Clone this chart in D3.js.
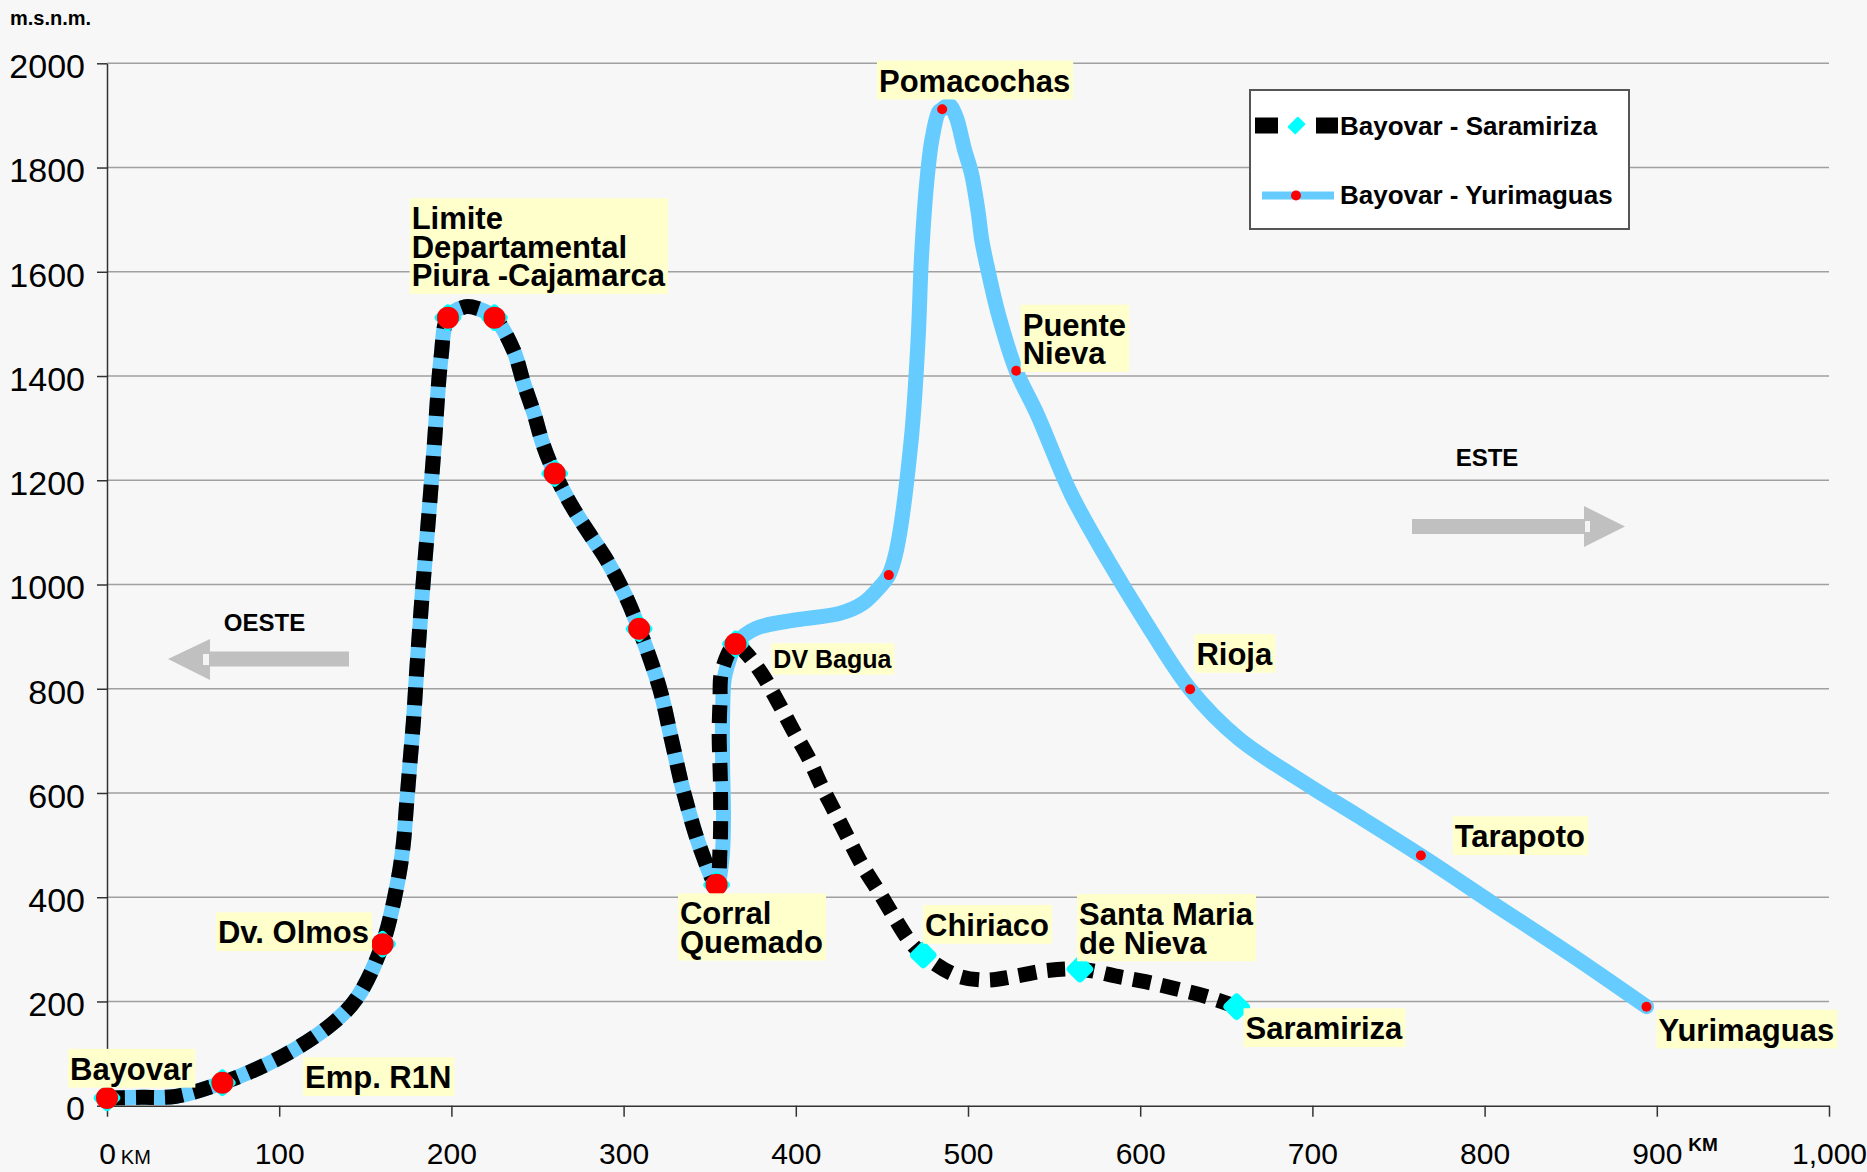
<!DOCTYPE html>
<html>
<head>
<meta charset="utf-8">
<script src="https://cdn.jsdelivr.net/npm/d3@7"></script>
<style>
  body { margin: 0; background: #f7f7f7; }
  svg { display: block; }
  text { font-family: "Liberation Sans", Arial, sans-serif; }
</style>
</head>
<body>
<svg id="chart" width="1867" height="1172"></svg>
<script>
// ---- data (km from Bayovar, metres above sea level) ----
var xTicks = [0, 100, 200, 300, 400, 500, 600, 700, 800, 900, 1000];
var yTicks = [0, 200, 400, 600, 800, 1000, 1200, 1400, 1600, 1800, 2000];

// common western stretch Bayovar -> Corral Quemado
var westKm = [0, 20, 40, 67, 88, 110, 131, 145, 160, 169, 172, 174, 176, 178, 180, 183, 187, 190, 194, 198, 208, 215, 225, 236, 242, 248, 253, 260, 270, 280, 290, 301, 309, 321, 328, 335, 345, 354];
var westM  = [15, 16, 18, 44, 72, 110, 158, 206, 310, 433, 500, 580, 660, 740, 842, 979, 1139, 1265, 1436, 1512, 1533, 1530, 1512, 1450, 1386, 1328, 1271, 1213, 1150, 1098, 1048, 979, 915, 800, 700, 600, 490, 424];

// Corral Quemado -> Yurimaguas
var yuriKm = [357, 358, 357.5, 357.5, 358.5, 362, 365, 377, 400, 426, 439, 449, 454, 458.5, 467, 471, 473, 476, 479, 483, 485, 489, 493, 498, 502, 506, 508, 512, 518, 528, 540, 560, 581, 602, 629, 657, 698, 726, 763, 804, 850, 894];
var yuriM  = [470, 550, 650, 750, 820, 862, 886, 916, 932, 945, 964, 996, 1018, 1066, 1277, 1469, 1629, 1770, 1853, 1907, 1912, 1920, 1898, 1834, 1789, 1712, 1661, 1597, 1514, 1410, 1328, 1173, 1048, 934, 799, 705, 614, 557, 480, 390, 290, 190];

// Corral Quemado -> Saramiriza
var saraKm = [356, 356.3, 355.5, 356, 357, 365, 370.5, 380, 389.6, 398.3, 407, 414.7, 422.6, 430.4, 439, 448.9, 457.6, 466.3, 474, 492.5, 510, 527, 545, 565, 587, 603, 620, 639, 656];
var saraM  = [494, 606, 714, 775, 833, 886, 871, 830, 775, 721, 670, 615, 564, 513, 459, 407, 359, 315, 289, 251, 241, 248, 259, 262, 248, 238, 225, 209, 190];

// stations: "both" = on both routes, "yuri" = Yurimaguas route, "sara" = Saramiriza route
var stationNames = ["Bayovar", "Emp. R1N", "Dv. Olmos", "Limite\nDepartamental\nPiura -Cajamarca", "", "", "", "Corral\nQuemado", "DV Bagua",
                    "", "Pomacochas", "Puente\nNieva", "Rioja", "Tarapoto", "Yurimaguas",
                    "Chiriaco", "Santa Maria\nde Nieva", "Saramiriza"];
var stationKm = [0, 67, 160, 198, 225, 260, 309, 354, 365, 454, 485, 528, 629, 763, 894, 474, 565, 656];
var stationM  = [15, 44, 310, 1512, 1512, 1213, 915, 424, 886, 1018, 1912, 1410, 799, 480, 190, 289, 262, 190];
var stationRoute = ["both", "both", "both", "both", "both", "both", "both", "both", "both",
                    "yuri", "yuri", "yuri", "yuri", "yuri", "yuri", "sara", "sara", "sara"];

var seriesNames = ["Bayovar - Saramiriza", "Bayovar - Yurimaguas"];

// ---- layout ----
var svg = d3.select("#chart");
var W = 1867, H = 1172;
var BLUE = "#66ccff", CYAN = "#00ffff", RED = "#ff0000";

var x = d3.scaleLinear().domain([0, 1000]).range([107, 1829]);
var y = d3.scaleLinear().domain([0, 2000]).range([1105.7, 63.3]);

svg.append("rect").attr("width", W).attr("height", H).attr("fill", "#f7f7f7");

// gridlines
svg.append("g")
  .selectAll("line")
  .data(yTicks.filter(function(d) { return d > 0; }))
  .enter().append("line")
  .attr("x1", x(0)).attr("x2", x(1000))
  .attr("y1", function(d) { return y(d); })
  .attr("y2", function(d) { return y(d); })
  .attr("stroke", "#a0a0a0")
  .attr("stroke-width", 1.5);

// y axis
var gy = svg.append("g")
  .attr("transform", "translate(" + x(0) + ",0)")
  .call(d3.axisLeft(y).tickValues(yTicks).tickSize(10).tickSizeOuter(0).tickPadding(12).tickFormat(d3.format("d")));
gy.selectAll("text").attr("font-size", 34).attr("fill", "#000").attr("dy", "0.42em")
  .style("font-family", '"Liberation Sans", Arial, sans-serif');
gy.selectAll("line, path").attr("stroke", "#333").attr("stroke-width", 1.5);

// x axis
var gx = svg.append("g")
  .attr("transform", "translate(0," + y(0) + ")")
  .call(d3.axisBottom(x).tickValues(xTicks).tickSize(11).tickSizeOuter(0).tickPadding(26).tickFormat(d3.format(",")));
gx.selectAll("text").attr("font-size", 30).attr("fill", "#000")
  .style("font-family", '"Liberation Sans", Arial, sans-serif');
gx.selectAll("line, path").attr("stroke", "#333").attr("stroke-width", 1.5);

// KM markers next to 0 and 900
gx.selectAll(".tick").each(function(d) {
  if (d !== 0 && d !== 900) return;
  var t = d3.select(this).select("text");
  var half = t.node().getComputedTextLength() / 2;
  var yt = +t.attr("y");
  if (d === 0) {
    d3.select(this).append("text")
      .attr("x", half + 5).attr("y", yt).attr("dy", 21)
      .attr("font-size", 20).attr("fill", "#000").attr("text-anchor", "start")
      .text("KM");
  } else {
    d3.select(this).append("text")
      .attr("x", half + 6).attr("y", yt).attr("dy", 8)
      .attr("font-size", 19).attr("font-weight", "bold").attr("fill", "#000").attr("text-anchor", "start")
      .text("KM");
  }
});

// unit label
svg.append("text").attr("x", 10).attr("y", 25)
  .attr("font-size", 20).attr("font-weight", "bold").text("m.s.n.m.");

// direction arrows
function arrow(pts, notch) {
  svg.append("polygon").attr("points", pts.map(function(p) { return p.join(","); }).join(" ")).attr("fill", "#c0c0c0");
  svg.append("rect").attr("x", notch[0]).attr("y", notch[1]).attr("width", notch[2]).attr("height", notch[3]).attr("fill", "#f4f4f4");
}
arrow([[349, 651.5], [210, 651.5], [210, 639], [168, 659], [210, 680], [210, 666.5], [349, 666.5]], [203, 654, 6, 11]);
arrow([[1412, 519], [1584, 519], [1584, 506], [1625, 526.5], [1584, 547], [1584, 534], [1412, 534]], [1585, 521, 5, 11]);
svg.append("text").attr("x", 264.5).attr("y", 630.5).attr("text-anchor", "middle")
  .attr("font-size", 24).attr("font-weight", "bold").text("OESTE");
svg.append("text").attr("x", 1487).attr("y", 465.5).attr("text-anchor", "middle")
  .attr("font-size", 24).attr("font-weight", "bold").text("ESTE");

// routes
function pts(km, m) { return km.map(function(k, i) { return [k, m[i]]; }); }
var west = pts(westKm, westM);
var yuriRoute = west.concat(pts(yuriKm, yuriM));
var saraRoute = west.concat(pts(saraKm, saraM));

var line = d3.line()
  .x(function(d) { return x(d[0]); })
  .y(function(d) { return y(d[1]); })
  .curve(d3.curveCatmullRom.alpha(0.5));

svg.append("path").datum(yuriRoute)
  .attr("d", line).attr("fill", "none")
  .attr("stroke", BLUE).attr("stroke-width", 15)
  .attr("stroke-linejoin", "round").attr("stroke-linecap", "round");

svg.append("path").datum(saraRoute)
  .attr("d", line).attr("fill", "none")
  .attr("stroke", "#000").attr("stroke-width", 15)
  .attr("stroke-dasharray", "18,11")
  .attr("stroke-linejoin", "round");

// markers
var stations = stationNames.map(function(n, i) {
  return { name: n, km: stationKm[i], m: stationM[i], route: stationRoute[i] };
});

svg.append("g").selectAll("rect")
  .data(stations.filter(function(s) { return s.route !== "yuri"; }))
  .enter().append("rect")
  .attr("x", -10.5).attr("y", -10.5).attr("width", 21).attr("height", 21).attr("rx", 4)
  .attr("transform", function(s) { return "translate(" + x(s.km) + "," + y(s.m) + ") rotate(45)"; })
  .attr("fill", CYAN);

svg.append("g").selectAll("circle")
  .data(stations.filter(function(s) { return s.route !== "sara"; }))
  .enter().append("circle")
  .attr("cx", function(s) { return x(s.km); })
  .attr("cy", function(s) { return y(s.m); })
  .attr("r", function(s) { return s.route === "both" ? 11 : 5; })
  .attr("fill", RED);

// station labels: offset of first baseline from the marker
var labelLayout = {
  "Bayovar": { dx: -37, dy: -18 },
  "Emp. R1N": { dx: 82.6, dy: 5.5 },
  "Dv. Olmos": { dx: -13.5, dy: -0.8, anchor: "end" },
  "Limite\nDepartamental\nPiura -Cajamarca": { dx: -36.3, dy: -88.4 },
  "Corral\nQuemado": { dx: -36.6, dy: 39.6 },
  "DV Bagua": { dx: 37.8, dy: 24.4, size: 25 },
  "Pomacochas": { dx: -63.2, dy: -17.5 },
  "Puente\nNieva": { dx: 6.5, dy: -35.1 },
  "Rioja": { dx: 6.3, dy: -24.3 },
  "Tarapoto": { dx: 33.8, dy: -8.2 },
  "Yurimaguas": { dx: 12, dy: 34 },
  "Chiriaco": { dx: 1.8, dy: -19.1 },
  "Santa Maria\nde Nieva": { dx: -0.9, dy: -44.1 },
  "Saramiriza": { dx: 8.9, dy: 32.6 }
};

var labels = svg.append("g");
stations.filter(function(s) { return s.name !== ""; }).forEach(function(s) {
  var L = labelLayout[s.name];
  var fs = L.size || 31, lh = 28.5;
  var lines = s.name.split("\n");
  var g = labels.append("g");
  var box = g.append("rect").attr("fill", "#ffffcc");
  var t = g.append("text")
    .attr("font-size", fs).attr("font-weight", "bold")
    .attr("text-anchor", L.anchor || "start");
  var tx = x(s.km) + L.dx, ty = y(s.m) + L.dy;
  lines.forEach(function(ln, i) {
    t.append("tspan").attr("x", tx).attr("y", ty + i * lh).text(ln);
  });
  var wmax = 0;
  t.selectAll("tspan").each(function() { wmax = Math.max(wmax, this.getComputedTextLength()); });
  var left = L.anchor === "end" ? tx - wmax : tx;
  box.attr("x", left - 2).attr("width", wmax + 5)
    .attr("y", ty - fs).attr("height", fs + (lines.length - 1) * lh + fs * 0.25);
});

// legend
var leg = svg.append("g");
leg.append("rect").attr("x", 1250).attr("y", 90).attr("width", 379).attr("height", 139)
  .attr("fill", "#fff").attr("stroke", "#555").attr("stroke-width", 2);
leg.append("line").attr("x1", 1255).attr("x2", 1338).attr("y1", 125.5).attr("y2", 125.5)
  .attr("stroke", "#000").attr("stroke-width", 16).attr("stroke-dasharray", "23,38,22");
leg.append("rect").attr("x", -6.5).attr("y", -6.5).attr("width", 13).attr("height", 13).attr("rx", 1)
  .attr("transform", "translate(1296.5,125.5) rotate(45) scale(0.85,1.15)").attr("fill", CYAN);
leg.append("line").attr("x1", 1262).attr("x2", 1334).attr("y1", 195.5).attr("y2", 195.5)
  .attr("stroke", BLUE).attr("stroke-width", 8);
leg.append("circle").attr("cx", 1296).attr("cy", 195.5).attr("r", 5).attr("fill", RED);
leg.selectAll("text.lg").data(seriesNames).enter().append("text")
  .attr("class", "lg")
  .attr("x", 1340)
  .attr("y", function(d, i) { return i === 0 ? 135 : 204; })
  .attr("font-size", 26).attr("font-weight", "bold")
  .text(function(d) { return d; });
</script>
</body>
</html>
